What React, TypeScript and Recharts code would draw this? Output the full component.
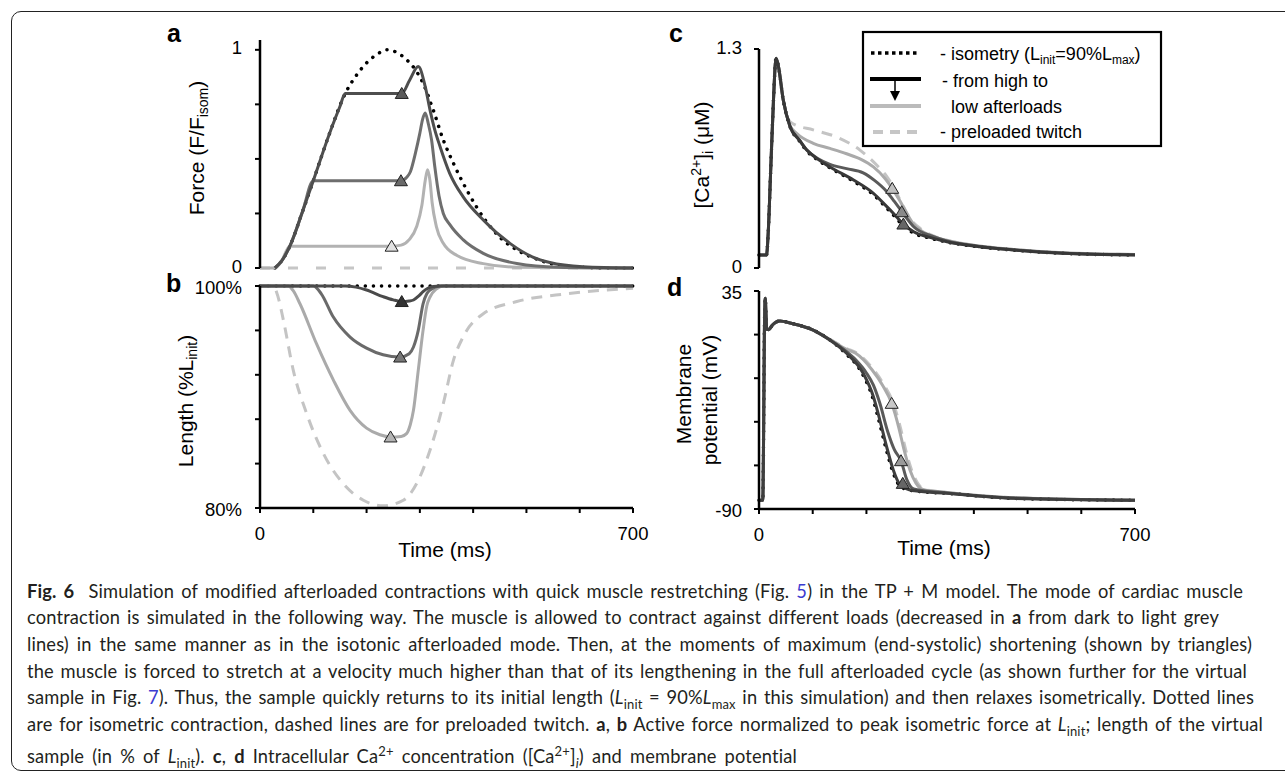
import React from "react";
import { ComposedChart, Line, Scatter, XAxis, YAxis } from "recharts";

type Pair = [number, number];

const FONT = '"Liberation Sans", Arial, sans-serif';
const timeTicks = [0, 100, 200, 300, 400, 500, 600, 700];

// a: force (F/F isom) vs time (ms)
const forceIsometric: Pair[] = [[28, 0], [40, 0.03], [56, 0.1], [80, 0.26], [100, 0.4], [131, 0.62], [160, 0.8], [180, 0.88], [200, 0.94], [220, 0.98], [238, 1.0], [255, 0.99], [275, 0.955], [294, 0.9], [306, 0.847], [325, 0.725], [344, 0.587], [363, 0.48], [388, 0.358], [425, 0.212], [455, 0.13], [482, 0.083], [520, 0.04], [557, 0.014], [600, 0.004], [650, 0], [700, 0]];
const forceHigh: Pair[] = [[28, 0], [40, 0.03], [56, 0.1], [80, 0.26], [100, 0.4], [131, 0.62], [150, 0.74], [160, 0.8], [266, 0.8], [281, 0.862], [297, 0.923], [310, 0.832], [319, 0.725], [328, 0.633], [338, 0.556], [356, 0.434], [381, 0.327], [419, 0.22], [469, 0.113], [512, 0.05], [544, 0.025], [606, 0.006], [700, 0]];
const forceMid: Pair[] = [[28, 0], [40, 0.03], [56, 0.1], [80, 0.26], [100, 0.4], [264, 0.4], [275, 0.415], [282, 0.44], [292, 0.53], [300, 0.618], [305, 0.68], [310, 0.71], [316, 0.66], [322, 0.587], [328, 0.465], [336, 0.33], [344, 0.25], [356, 0.2], [381, 0.13], [419, 0.067], [482, 0.021], [560, 0.004], [700, 0]];
const forceLow: Pair[] = [[0, 0], [28, 0], [40, 0.03], [56, 0.1], [247, 0.1], [265, 0.105], [280, 0.13], [294, 0.19], [304, 0.29], [310, 0.4], [314.5, 0.45], [319, 0.4], [323, 0.3], [331, 0.19], [344, 0.113], [369, 0.058], [419, 0.02], [480, 0.004], [700, 0]];
const forcePreload: Pair[] = [[0, 0], [700, 0]];
const forceMarks: Pair[] = [[266, 0.8], [264.5, 0.4], [247, 0.1]];

// b: length (% L init)
const lengthIsometric: Pair[] = [[0, 100], [700, 100]];
const lengthHigh: Pair[] = [[0, 100], [160, 100], [180, 99.9], [200, 99.64], [231, 99.04], [250, 98.75], [266, 98.6], [280, 98.65], [288, 98.74], [298, 99.1], [306, 99.49], [315, 99.8], [325, 99.95], [340, 100], [700, 100]];
const lengthMid: Pair[] = [[0, 100], [100, 100], [115, 99.3], [137.6, 97.2], [169, 95.4], [200, 94.4], [231, 93.8], [263, 93.6], [280, 93.9], [288, 94.5], [297, 96.0], [306, 98.4], [313, 99.3], [319, 99.64], [338, 100], [700, 100]];
const lengthLow: Pair[] = [[0, 100], [53, 100], [62, 99.6], [75, 98.4], [106, 94.8], [138, 91.5], [169, 88.8], [200, 87.2], [225, 86.6], [245, 86.4], [265, 86.45], [275, 86.7], [282, 87.5], [288, 88.8], [297, 92.4], [306, 96.0], [313, 98.2], [319, 99.0], [330, 99.7], [345, 100], [700, 100]];
const lengthPreload: Pair[] = [[0, 100], [25, 100], [34, 99], [44, 96.9], [62.5, 92.4], [87.6, 88.5], [119, 84.9], [156, 82.2], [194, 80.7], [231, 80.2], [269, 80.7], [294, 82.2], [319, 85.2], [344, 89.4], [363, 93.3], [381, 95.4], [419, 97.5], [482, 98.6], [576, 99.3], [700, 99.8]];
const lengthMarks: Pair[] = [[266, 98.6], [263, 93.6], [245, 86.4]];

// c: [Ca2+]i (uM)
const caIsometric: Pair[] = [[0, 0.077], [14, 0.077], [17, 0.2], [22, 0.6], [27, 1.0], [31.7, 1.245], [36, 1.2], [45, 1.0], [57.7, 0.84], [75, 0.755], [89, 0.695], [110, 0.64], [132, 0.595], [176, 0.515], [213, 0.435], [238, 0.355], [250, 0.315], [269, 0.25], [288, 0.207], [318, 0.178], [350, 0.154], [411, 0.125], [474, 0.106], [567, 0.087], [700, 0.077]];
const caHigh: Pair[] = [[0, 0.077], [14, 0.077], [17, 0.2], [22, 0.6], [27, 1.0], [31.7, 1.245], [36, 1.2], [45, 1.0], [57.7, 0.84], [75, 0.76], [89, 0.7], [110, 0.645], [132, 0.6], [176, 0.522], [213, 0.443], [238, 0.364], [250, 0.325], [269, 0.261], [288, 0.215], [318, 0.182], [350, 0.156], [411, 0.126], [474, 0.107], [567, 0.087], [700, 0.077]];
const caMid: Pair[] = [[0, 0.077], [14, 0.077], [17, 0.2], [22, 0.6], [27, 1.0], [31.7, 1.245], [36, 1.2], [45, 1.0], [57.7, 0.84], [75, 0.76], [89, 0.7], [110, 0.648], [132, 0.615], [163, 0.59], [194, 0.565], [215, 0.52], [238, 0.453], [252, 0.395], [266, 0.334], [288, 0.245], [325, 0.186], [350, 0.16], [411, 0.128], [474, 0.108], [567, 0.088], [700, 0.078]];
const caLow: Pair[] = [[0, 0.077], [14, 0.077], [17, 0.2], [22, 0.6], [27, 1.0], [31.7, 1.245], [36, 1.2], [45, 1.0], [57.7, 0.845], [70, 0.8], [101, 0.74], [132, 0.71], [163, 0.678], [190, 0.645], [213, 0.6], [235, 0.53], [248, 0.473], [262, 0.4], [275, 0.325], [288, 0.26], [300, 0.226], [325, 0.186], [350, 0.163], [411, 0.13], [474, 0.11], [567, 0.09], [700, 0.08]];
const caPreload: Pair[] = [[45, 1.0], [55, 0.88], [64, 0.855], [101, 0.82], [145, 0.777], [188, 0.7], [219, 0.611], [238, 0.542], [250, 0.483], [265, 0.39], [280, 0.3], [300, 0.235], [325, 0.19], [350, 0.165], [411, 0.13], [474, 0.11], [567, 0.09], [700, 0.08]];
const caMarks: Pair[] = [[268.8, 0.261], [265.7, 0.334], [248, 0.473]];

// d: membrane potential (mV)
const vmIsometric: Pair[] = [[0, -85], [7, -85], [8.5, -50], [10, 10], [11.7, 30.8], [13, 22], [14.5, 13], [18, 12.8], [25, 15.5], [39, 17.8], [60, 16.5], [101, 12.6], [132, 6.9], [161, -0.7], [192, -12.2], [211, -25.6], [223, -39], [235.6, -54.3], [248, -67.6], [260.6, -76.2], [273, -78.6], [290, -79.6], [350, -81], [474, -83.9], [700, -85]];
const vmHigh: Pair[] = [[0, -85], [7, -85], [8.5, -50], [10, 10], [11.7, 30.8], [13, 22], [14.5, 13], [18, 12.8], [25, 15.5], [39, 17.8], [60, 16.5], [101, 12.6], [132, 6.9], [163, -0.7], [194, -12.2], [213, -25.6], [225, -39], [237.6, -54.3], [250, -67.6], [262.6, -76.2], [275, -78.5], [290, -79.5], [350, -81], [474, -83.9], [700, -85]];
const vmMid: Pair[] = [[0, -85], [7, -85], [8.5, -50], [10, 10], [11.7, 30.8], [13, 22], [14.5, 13], [18, 12.8], [25, 15.5], [39, 17.8], [60, 16.5], [101, 12.6], [132, 6.9], [163, 0.2], [180, -4.5], [200, -12], [213, -19], [225, -29.4], [240, -46], [252, -56], [264.4, -62.3], [275, -73], [288, -78.5], [350, -80.8], [474, -83.7], [700, -85]];
const vmLow: Pair[] = [[0, -85], [7, -85], [8.5, -50], [10, 10], [11.7, 30.8], [13, 22], [14.5, 13], [18, 12.8], [25, 15.5], [39, 17.8], [60, 16.5], [101, 12.6], [132, 7.2], [163, 1.5], [180, -0.7], [210, -10], [230, -19], [247, -29.4], [260, -43], [270, -56], [281, -67.6], [292, -75], [305, -78.8], [350, -80.5], [474, -83.5], [700, -85]];
const vmPreload: Pair[] = [[132, 7.3], [163, 2], [183, -0.7], [213, -10], [233, -19], [250, -29.4], [263, -43], [273, -56], [284, -67.6], [295, -75], [308, -78.8], [350, -80.5], [474, -83.5], [700, -85]];
const vmMarks: Pair[] = [[267.6, -75.3], [264.4, -62.3], [247, -29.4]];

const toRows = (pts: Pair[]) => pts.map(([t, v]) => ({ t, v }));

type Curve = { pts: Pair[]; color: string; width?: number; dash?: string; round?: boolean };

const Tri = ({ cx, cy, fill }: { cx?: number; cy?: number; fill: string }) => {
  if (cx == null || cy == null) return null;
  return (
    <polygon
      points={`${cx},${cy - 6} ${cx - 6.5},${cy + 5} ${cx + 6.5},${cy + 5}`}
      fill={fill}
      stroke="#222"
      strokeWidth={1}
    />
  );
};

type PanelProps = {
  left: number;
  top: number;
  width: number;
  height: number;
  margin: { top: number; right: number; bottom: number; left: number };
  yDomain: [number, number];
  yTicks: number[];
  yFmt: (v: number) => string;
  yTickMargin: number;
  yTickDy?: number;
  showX: boolean;
  curves: Curve[];
  marks: Pair[];
  markFills: string[];
};

const axisLine = { stroke: "#000", strokeWidth: 2.5 };
const tickLine = { stroke: "#000", strokeWidth: 2 };
const tickStyle = { fill: "#000", fontSize: 18.5, fontFamily: FONT };

const Panel = (p: PanelProps) => (
  <div style={{ position: "absolute", left: p.left, top: p.top }}>
    <ComposedChart width={p.width} height={p.height} margin={p.margin}>
      <XAxis
        type="number"
        dataKey="t"
        domain={[0, 700]}
        ticks={timeTicks}
        interval={0}
        hide={!p.showX}
        height={p.showX ? 40 : 0}
        axisLine={axisLine}
        tickLine={tickLine}
        tickSize={5}
        tickMargin={14}
        tick={tickStyle}
        tickFormatter={(v: number) => (v === 0 || v === 700 ? String(v) : "")}
      />
      <YAxis
        type="number"
        domain={p.yDomain}
        ticks={p.yTicks}
        interval={0}
        width={60}
        axisLine={axisLine}
        tickLine={tickLine}
        tickSize={5}
        tickMargin={p.yTickMargin}
        tick={{ ...tickStyle, dy: p.yTickDy ?? 0 }}
        tickFormatter={p.yFmt}
      />
      {p.curves.map((c, i) => (
        <Line
          key={i}
          data={toRows(c.pts)}
          dataKey="v"
          type="monotone"
          stroke={c.color}
          strokeWidth={c.width ?? 3}
          strokeDasharray={c.dash}
          strokeLinecap={c.round ? "round" : "butt"}
          dot={false}
          activeDot={false}
          isAnimationActive={false}
        />
      ))}
      {p.marks.map((m, i) => (
        <Scatter
          key={"m" + i}
          data={[{ t: m[0], v: m[1] }]}
          dataKey="v"
          fill={p.markFills[i]}
          shape={(s: any) => <Tri cx={s.cx} cy={s.cy} fill={p.markFills[i]} />}
          isAnimationActive={false}
        />
      ))}
    </ComposedChart>
  </div>
);

const dotted = "0.1 8";
const subSize = 13;

const captionLines: { w: number; body: React.ReactNode }[] = [
  {
    w: 1216,
    body: (
      <>
        <b>Fig. 6</b>&nbsp; Simulation of modified afterloaded contractions with quick muscle restretching (Fig.{" "}
        <span style={{ color: "#3b3bd0" }}>5</span>) in the TP + M model. The mode of cardiac muscle
      </>
    ),
  },
  {
    w: 1192,
    body: (
      <>
        contraction is simulated in the following way. The muscle is allowed to contract against different loads (decreased in <b>a</b> from dark to light grey
      </>
    ),
  },
  {
    w: 1225,
    body: <>lines) in the same manner as in the isotonic afterloaded mode. Then, at the moments of maximum (end-systolic) shortening (shown by triangles)</>,
  },
  {
    w: 1220,
    body: <>the muscle is forced to stretch at a velocity much higher than that of its lengthening in the full afterloaded cycle (as shown further for the virtual</>,
  },
  {
    w: 1227,
    body: (
      <>
        sample in Fig. <span style={{ color: "#3b3bd0" }}>7</span>). Thus, the sample quickly returns to its initial length (<i>L</i>
        <sub style={{ fontSize: subSize }}>init</sub> = 90%<i>L</i>
        <sub style={{ fontSize: subSize }}>max</sub> in this simulation) and then relaxes isometrically. Dotted lines
      </>
    ),
  },
  {
    w: 1236,
    body: (
      <>
        are for isometric contraction, dashed lines are for preloaded twitch. <b>a</b>, <b>b</b> Active force normalized to peak isometric force at <i>L</i>
        <sub style={{ fontSize: subSize }}>init</sub>; length of the virtual
      </>
    ),
  },
  {
    w: 770,
    body: (
      <>
        sample (in % of <i>L</i>
        <sub style={{ fontSize: subSize }}>init</sub>). <b>c</b>, <b>d</b> Intracellular Ca<sup style={{ fontSize: subSize }}>2+</sup> concentration ([Ca
        <sup style={{ fontSize: subSize }}>2+</sup>]<sub style={{ fontSize: subSize }}><i>i</i></sub>) and membrane potential
      </>
    ),
  },
];

const App = () => {
  return (
    <div
      style={{
        position: "fixed",
        left: 0,
        top: 0,
        width: 1285,
        height: 772,
        overflow: "hidden",
        background: "#fff",
      }}
    >
      <div
        style={{
          position: "absolute",
          left: 11,
          top: 11,
          width: 1400,
          height: 758,
          border: "1.5px solid #222",
          borderRadius: 10,
        }}
      />

      <Panel
        left={150}
        top={20}
        width={510}
        height={260}
        margin={{ top: 20, right: 27, bottom: 12, left: 50 }}
        yDomain={[0, 1.045]}
        yTicks={[0, 0.25, 0.5, 0.75, 1]}
        yFmt={(v) => (v === 0 ? "0" : v === 1 ? "1" : "")}
        yTickMargin={13}
        yTickDy={-2}
        showX={false}
        curves={[
          { pts: forcePreload, color: "#c6c6c6", width: 3, dash: "10 18" },
          { pts: forceIsometric, color: "#000", width: 3.5, dash: dotted, round: true },
          { pts: forceLow, color: "#b2b2b2" },
          { pts: forceMid, color: "#6e6e6e" },
          { pts: forceHigh, color: "#4e4e4e" },
        ]}
        marks={forceMarks}
        markFills={["#5a5a5a", "#6a6a6a", "#e2e2e2"]}
      />

      <Panel
        left={150}
        top={270}
        width={510}
        height={300}
        margin={{ top: 16, right: 27, bottom: 22, left: 50 }}
        yDomain={[80, 100]}
        yTicks={[80, 84, 88, 92, 96, 100]}
        yFmt={(v) => (v === 100 ? "100%" : v === 80 ? "80%" : "")}
        yTickMargin={13}
        yTickDy={1.5}
        showX={true}
        curves={[
          { pts: lengthIsometric, color: "#000", width: 3.5, dash: dotted, round: true },
          { pts: lengthPreload, color: "#c4c4c4", width: 3, dash: "11 8" },
          { pts: lengthLow, color: "#aaaaaa" },
          { pts: lengthMid, color: "#6a6a6a" },
          { pts: lengthHigh, color: "#4a4a4a" },
        ]}
        marks={lengthMarks}
        markFills={["#333333", "#777777", "#b4b4b4"]}
      />

      <Panel
        left={680}
        top={20}
        width={480}
        height={260}
        margin={{ top: 29, right: 25, bottom: 12, left: 19 }}
        yDomain={[0, 1.3]}
        yTicks={[0, 1.3]}
        yFmt={(v) => (v === 0 ? "0" : "1.3")}
        yTickMargin={12}
        yTickDy={-2}
        showX={false}
        curves={[
          { pts: caPreload, color: "#c4c4c4", width: 3, dash: "11 8" },
          { pts: caLow, color: "#aaaaaa" },
          { pts: caIsometric, color: "#000", width: 3.5, dash: dotted, round: true },
          { pts: caMid, color: "#5a5a5a" },
          { pts: caHigh, color: "#383838" },
        ]}
        marks={caMarks}
        markFills={["#666666", "#8a8a8a", "#c0c0c0"]}
      />

      <Panel
        left={680}
        top={270}
        width={480}
        height={300}
        margin={{ top: 21, right: 25, bottom: 21, left: 19 }}
        yDomain={[-90, 35]}
        yTicks={[-90, -65, -40, -15, 10, 35]}
        yFmt={(v) => (v === 35 ? "35" : v === -90 ? "-90" : "")}
        yTickMargin={12}
        yTickDy={1.5}
        showX={true}
        curves={[
          { pts: vmPreload, color: "#c4c4c4", width: 3, dash: "11 8" },
          { pts: vmLow, color: "#aaaaaa" },
          { pts: vmIsometric, color: "#000", width: 3.5, dash: dotted, round: true },
          { pts: vmMid, color: "#5a5a5a" },
          { pts: vmHigh, color: "#3e3e3e" },
        ]}
        marks={vmMarks}
        markFills={["#666666", "#999999", "#c8c8c8"]}
      />

      <svg
        width={1285}
        height={772}
        style={{ position: "absolute", left: 0, top: 0, pointerEvents: "none" }}
        fontFamily={FONT}
        fill="#000"
      >
        <g fontSize={25} fontWeight="bold">
          <text x={167} y={42}>a</text>
          <text x={166} y={292}>b</text>
          <text x={669} y={42}>c</text>
          <text x={667} y={296}>d</text>
        </g>

        <g fontSize={21}>
          <text transform="translate(198,148) rotate(-90)" textAnchor="middle" y={6}>
            Force (F/F<tspan fontSize={14} dy={4}>isom</tspan>
            <tspan dy={-4}>)</tspan>
          </text>
          <text transform="translate(187,401) rotate(-90)" textAnchor="middle" y={6}>
            Length (%L<tspan fontSize={14} dy={4}>init</tspan>
            <tspan dy={-4}>)</tspan>
          </text>
          <text transform="translate(703,155) rotate(-90)" textAnchor="middle" y={6}>
            [Ca<tspan fontSize={14} dy={-8}>2+</tspan>
            <tspan dy={8}>]</tspan>
            <tspan fontSize={14} dy={4}>i</tspan>
            <tspan dy={-4}> (μM)</tspan>
          </text>
          <text transform="translate(685,394) rotate(-90)" textAnchor="middle" y={6}>
            Membrane
          </text>
          <text transform="translate(711,400) rotate(-90)" textAnchor="middle" y={6}>
            potential (mV)
          </text>
          <text x={445} y={557} textAnchor="middle">Time (ms)</text>
          <text x={944} y={555} textAnchor="middle">Time (ms)</text>
        </g>

        <g>
          <rect x={863} y={32} width={298} height={114} fill="#fff" stroke="#000" strokeWidth={2.2} />
          <line x1={871} y1={53} x2={920} y2={53} stroke="#000" strokeWidth={3.5} strokeDasharray="3.5 3.5" />
          <line x1={870} y1={79} x2={921} y2={79} stroke="#000" strokeWidth={4} />
          <line x1={895} y1={80} x2={895} y2={93} stroke="#000" strokeWidth={1.5} />
          <polygon points="890,91 900,91 895,101" fill="#000" />
          <line x1={870} y1={106} x2={921} y2={106} stroke="#bbbbbb" strokeWidth={4} />
          <line x1={873} y1={132} x2={923} y2={132} stroke="#c6c6c6" strokeWidth={4} strokeDasharray="10 7" />
          <g fontSize={18}>
            <text x={940} y={60}>
              - isometry (L<tspan fontSize={12} dy={4}>init</tspan>
              <tspan dy={-4}>=90%L</tspan>
              <tspan fontSize={12} dy={4}>max</tspan>
              <tspan dy={-4}>)</tspan>
            </text>
            <text x={942} y={87}>- from high to</text>
            <text x={951} y={113}>low afterloads</text>
            <text x={940} y={138}>- preloaded twitch</text>
          </g>
        </g>
      </svg>

      {captionLines.map((ln, i) => (
        <div
          key={i}
          style={{
            position: "absolute",
            left: 27,
            top: 598.3 + 26.67 * i - 20.5,
            width: ln.w,
            height: 26,
            lineHeight: "26px",
            whiteSpace: "nowrap",
            fontFamily: 'Lato, "Open Sans", sans-serif',
            fontSize: 18.3,
            letterSpacing: 0.15,
            color: "#231f20",
            textAlign: "justify",
            textAlignLast: "justify",
          }}
        >
          {ln.body}
        </div>
      ))}
    </div>
  );
};

export default App;
